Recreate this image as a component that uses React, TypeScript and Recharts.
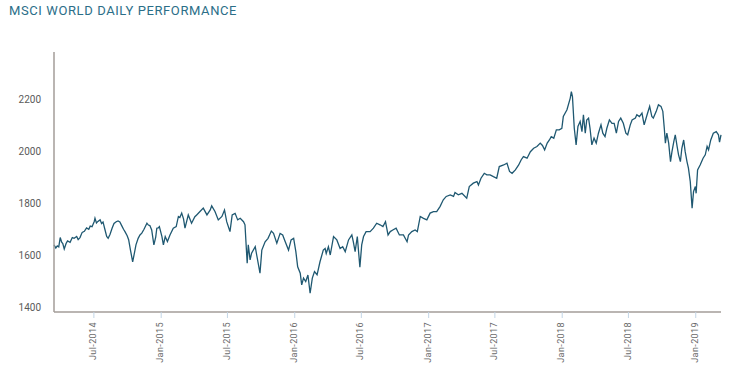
import { LineChart, Line, XAxis, YAxis } from "recharts";

// ─── Data ─────────────────────────────────────────
const dates = [
  "2014-03-14", "2014-03-19", "2014-03-23", "2014-03-27", "2014-03-31", "2014-04-04", "2014-04-07", "2014-04-11",
  "2014-04-16", "2014-04-20", "2014-04-27", "2014-05-03", "2014-05-08", "2014-05-15", "2014-05-19", "2014-05-24",
  "2014-05-30", "2014-06-05", "2014-06-11", "2014-06-17", "2014-06-21", "2014-06-26", "2014-07-02", "2014-07-04",
  "2014-07-08", "2014-07-12", "2014-07-18", "2014-07-22", "2014-07-26", "2014-07-31", "2014-08-05", "2014-08-09",
  "2014-08-14", "2014-08-20", "2014-08-25", "2014-08-31", "2014-09-05", "2014-09-10", "2014-09-15", "2014-09-20",
  "2014-09-24", "2014-09-30", "2014-10-04", "2014-10-09", "2014-10-15", "2014-10-20", "2014-10-24", "2014-10-30",
  "2014-11-04", "2014-11-09", "2014-11-15", "2014-11-23", "2014-11-27", "2014-12-01", "2014-12-06", "2014-12-12",
  "2014-12-17", "2014-12-20", "2014-12-24", "2014-12-27",
  "2015-01-03", "2015-01-07", "2015-01-12", "2015-01-18", "2015-01-25", "2015-02-03", "2015-02-11", "2015-02-17",
  "2015-02-21", "2015-02-26", "2015-03-03", "2015-03-07", "2015-03-16", "2015-03-25", "2015-04-03", "2015-04-08",
  "2015-04-17", "2015-04-26", "2015-05-06", "2015-05-15", "2015-05-19", "2015-05-28", "2015-06-06", "2015-06-16",
  "2015-06-23", "2015-06-29", "2015-07-08", "2015-07-14", "2015-07-22", "2015-07-29", "2015-08-05", "2015-08-14",
  "2015-08-18", "2015-08-24", "2015-08-27", "2015-09-01", "2015-09-05", "2015-09-15", "2015-09-19", "2015-09-28",
  "2015-10-03", "2015-10-12", "2015-10-20", "2015-10-29", "2015-11-04", "2015-11-13", "2015-11-22", "2015-11-29",
  "2015-12-06", "2015-12-15", "2015-12-22", "2015-12-29",
  "2016-01-04", "2016-01-09", "2016-01-16", "2016-01-20", "2016-01-25", "2016-01-31", "2016-02-06", "2016-02-12",
  "2016-02-18", "2016-02-24", "2016-03-02", "2016-03-10", "2016-03-19", "2016-03-24", "2016-03-27", "2016-04-02",
  "2016-04-07", "2016-04-16", "2016-04-25", "2016-05-04", "2016-05-11", "2016-05-18", "2016-05-27", "2016-06-05",
  "2016-06-09", "2016-06-14", "2016-06-20", "2016-06-27", "2016-07-02", "2016-07-07", "2016-07-14", "2016-07-25",
  "2016-08-03", "2016-08-12", "2016-08-21", "2016-08-29", "2016-09-05", "2016-09-12", "2016-09-18", "2016-09-25",
  "2016-10-04", "2016-10-13", "2016-10-24", "2016-11-03", "2016-11-07", "2016-11-16", "2016-11-25", "2016-12-01",
  "2016-12-09", "2016-12-18", "2016-12-27",
  "2017-01-05", "2017-01-14", "2017-01-23", "2017-02-01", "2017-02-10", "2017-02-18", "2017-03-01", "2017-03-10",
  "2017-03-14", "2017-03-23", "2017-04-02", "2017-04-15", "2017-04-22", "2017-05-03", "2017-05-13", "2017-05-17",
  "2017-05-24", "2017-06-02", "2017-06-09", "2017-06-18", "2017-06-27", "2017-07-06", "2017-07-13", "2017-07-25",
  "2017-08-03", "2017-08-10", "2017-08-17", "2017-08-26", "2017-09-04", "2017-09-11", "2017-09-17", "2017-09-27",
  "2017-10-06", "2017-10-15", "2017-10-24", "2017-11-02", "2017-11-08", "2017-11-14", "2017-11-21", "2017-11-27",
  "2017-12-02", "2017-12-09", "2017-12-16", "2017-12-24", "2017-12-31",
  "2018-01-04", "2018-01-14", "2018-01-23", "2018-01-26", "2018-01-29", "2018-02-03", "2018-02-08", "2018-02-13",
  "2018-02-19", "2018-02-24", "2018-02-28", "2018-03-05", "2018-03-09", "2018-03-14", "2018-03-18", "2018-03-23",
  "2018-03-29", "2018-04-04", "2018-04-10", "2018-04-17", "2018-04-22", "2018-04-28", "2018-05-03", "2018-05-10",
  "2018-05-17", "2018-05-23", "2018-05-29", "2018-06-04", "2018-06-10", "2018-06-17", "2018-06-24", "2018-06-29",
  "2018-07-06", "2018-07-11", "2018-07-20", "2018-07-24", "2018-07-31", "2018-08-07", "2018-08-13", "2018-08-21",
  "2018-08-28", "2018-09-03", "2018-09-07", "2018-09-15", "2018-09-21", "2018-09-28", "2018-10-03", "2018-10-07",
  "2018-10-10", "2018-10-14", "2018-10-19", "2018-10-24", "2018-10-28", "2018-11-02", "2018-11-06", "2018-11-11",
  "2018-11-15", "2018-11-20", "2018-11-24", "2018-11-29", "2018-12-03", "2018-12-08", "2018-12-12", "2018-12-17",
  "2018-12-22", "2018-12-26", "2018-12-31",
  "2019-01-02", "2019-01-06", "2019-01-13", "2019-01-21", "2019-01-27", "2019-02-01", "2019-02-05", "2019-02-11",
  "2019-02-18", "2019-02-26", "2019-03-04", "2019-03-07", "2019-03-11",
];

const values = [
  1640, 1628, 1636, 1632, 1668, 1650, 1645, 1624,
  1645, 1655, 1650, 1668, 1665, 1672, 1660, 1668,
  1688, 1692, 1705, 1700, 1712, 1710, 1730, 1742,
  1724, 1730, 1736, 1722, 1728, 1700, 1672, 1665,
  1680, 1705, 1722, 1729, 1732, 1728, 1714, 1700,
  1691, 1675, 1660, 1620, 1575, 1610, 1640, 1665,
  1678, 1685, 1700, 1723, 1716, 1714, 1697, 1640,
  1670, 1704, 1705, 1710,
  1672, 1640, 1672, 1653, 1678, 1704, 1710, 1749,
  1745, 1762, 1740, 1704, 1755, 1723, 1748, 1755,
  1768, 1781, 1755, 1774, 1790, 1768, 1736, 1749,
  1774, 1729, 1691, 1755, 1761, 1736, 1742, 1729,
  1717, 1569, 1640, 1582, 1608, 1633, 1601, 1531,
  1620, 1652, 1665, 1693, 1684, 1646, 1684, 1678,
  1652, 1620, 1659, 1665,
  1614, 1556, 1531, 1486, 1512, 1499, 1524, 1454,
  1512, 1537, 1525, 1575, 1620, 1626, 1607, 1633,
  1601, 1672, 1659, 1626, 1633, 1614, 1659, 1678,
  1652, 1614, 1672, 1554, 1640, 1672, 1691, 1691,
  1704, 1723, 1717, 1710, 1729, 1678, 1691, 1697,
  1704, 1678, 1678, 1652, 1678, 1691, 1697, 1691,
  1749, 1742, 1736,
  1762, 1768, 1768, 1787, 1813, 1826, 1832, 1826,
  1841, 1832, 1838, 1819, 1864, 1877, 1883, 1870,
  1896, 1915, 1909, 1909, 1902, 1896, 1941, 1947,
  1954, 1922, 1915, 1928, 1947, 1967, 1979, 1973,
  1998, 2011, 2018, 2031, 2022, 2005, 2031, 2043,
  2056, 2050, 2082, 2082, 2088,
  2133, 2159, 2204, 2229, 2210, 2088, 2024, 2095,
  2114, 2075, 2140, 2069, 2120, 2127, 2088, 2024,
  2050, 2031, 2069, 2101, 2069, 2056, 2088, 2120,
  2107, 2107, 2069, 2114, 2127, 2107, 2069, 2063,
  2101, 2120, 2127, 2140, 2133, 2146, 2101, 2140,
  2172, 2133, 2127, 2153, 2178, 2172, 2153, 2088,
  2031, 2069, 2031, 1960, 1998, 2037, 2063, 2018,
  1986, 1960, 2011, 2043, 1999, 1960, 1935, 1883,
  1781, 1845, 1864,
  1838, 1928, 1947, 1973, 1986, 2018, 2005, 2043,
  2069, 2075, 2063, 2035, 2063,
];

const tickDates = [
  "2014-07-01", "2015-01-01", "2015-07-01", "2016-01-01", "2016-07-01",
  "2017-01-01", "2017-07-01", "2018-01-01", "2018-07-01", "2019-01-01",
];
const tickLabels = [
  "Jul-2014", "Jan-2015", "Jul-2015", "Jan-2016", "Jul-2016",
  "Jan-2017", "Jul-2017", "Jan-2018", "Jul-2018", "Jan-2019",
];
const yTicks = [1400, 1600, 1800, 2000, 2200];

const data = dates.map((d, i) => ({ t: Date.parse(d), value: values[i] }));
const xTicks = tickDates.map((d) => Date.parse(d));

const FONT = "Roboto, 'Open Sans', sans-serif";

// ─── Rotated date tick ────────────────────────────
function DateTick({ x, y, payload }: { x?: number; y?: number; payload?: { value: number } }) {
  const label = tickLabels[xTicks.indexOf(payload?.value ?? 0)] ?? "";
  const tx = (x ?? 0) - 1;
  const ty = (y ?? 0) + 2;
  return (
    <text
      x={tx}
      y={ty}
      transform={`rotate(-90 ${tx} ${ty})`}
      textAnchor="end"
      dy="0.35em"
      fontSize={9}
      fill="#6b6b6b"
      letterSpacing={0.4}
      fontFamily={FONT}
    >
      {label}
    </text>
  );
}

export default function App() {
  return (
    <div style={{ position: "relative", width: 732, height: 366, background: "#fff" }}>
      <style>{`body{margin:0}`}</style>
      <div
        style={{
          position: "absolute",
          left: 9,
          top: 3,
          fontFamily: FONT,
          fontSize: 13,
          lineHeight: "15px",
          color: "#2b6e88",
          letterSpacing: 0.6,
        }}
      >
        MSCI WORLD DAILY PERFORMANCE
      </div>
      <LineChart width={732} height={366} data={data} margin={{ top: 52, right: 11, bottom: 0, left: 0 }}>
        <XAxis
          dataKey="t"
          type="number"
          domain={[Date.parse("2014-03-14"), Date.parse("2019-03-11")]}
          ticks={xTicks}
          tick={<DateTick />}
          height={54}
          axisLine={{ stroke: "#a39d98", strokeWidth: 1.5 }}
          tickLine={{ stroke: "#c3d5e6" }}
          tickSize={6}
          interval={0}
        />
        <YAxis
          domain={[1382, 2381]}
          ticks={yTicks}
          width={54}
          axisLine={{ stroke: "#a39d98", strokeWidth: 1.5 }}
          tickLine={false}
          tickMargin={7}
          tick={{ fontSize: 10, fill: "#5a5a5a", fontFamily: FONT }}
        />
        <Line
          type="linear"
          dataKey="value"
          stroke="#1f5871"
          strokeWidth={1.3}
          dot={false}
          isAnimationActive={false}
        />
      </LineChart>
    </div>
  );
}
